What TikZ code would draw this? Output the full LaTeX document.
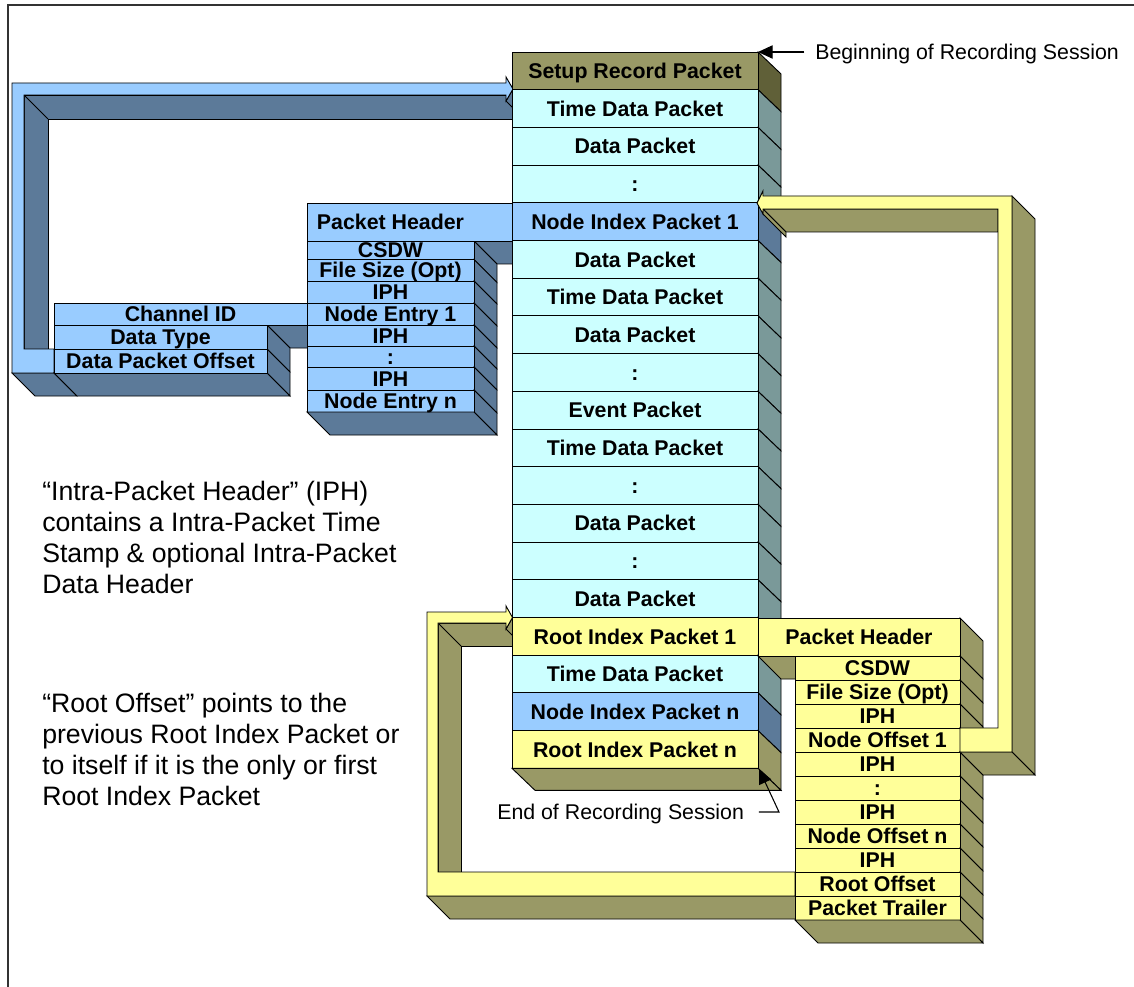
\documentclass[tikz,border=0pt]{standalone}
\usepackage{fontspec}
\setmainfont{Liberation Sans}
\usetikzlibrary{arrows.meta}
\definecolor{frontsetup}{HTML}{999966}
\definecolor{sidesetup}{HTML}{606038}
\definecolor{frontcyan}{HTML}{CCFFFF}
\definecolor{sidecyan}{HTML}{7A9999}
\definecolor{frontblue}{HTML}{99CCFF}
\definecolor{sideblue}{HTML}{5C7A99}
\definecolor{frontyel}{HTML}{FFFF99}
\definecolor{sideyel}{HTML}{999966}
\def\stacklist{Setup Record Packet/setup, Time Data Packet/cyan, Data Packet/cyan, :/cyan, Node Index Packet 1/blue, Data Packet/cyan, Time Data Packet/cyan, Data Packet/cyan, :/cyan, Event Packet/cyan, Time Data Packet/cyan, :/cyan, Data Packet/cyan, :/cyan, Data Packet/cyan, Root Index Packet 1/yel, Time Data Packet/cyan, Node Index Packet n/blue, Root Index Packet n/yel}
\def\bluelist{241/259.5/CSDW, 259.5/281/File Size (Opt), 281/303/IPH, 303/325/Node Entry 1, 325/346/IPH, 346/367/:, 367/390/IPH, 390/412/Node Entry n}
\def\yellist{CSDW, File Size (Opt), IPH, Node Offset 1, IPH, :, IPH, Node Offset n, IPH, Root Offset, Packet Trailer}
\begin{document}
\begin{tikzpicture}[x=0.75pt,y=-0.75pt,
  ln/.style={draw=black,line width=0.7pt,line join=miter},
  lbl/.style={font=\bfseries\fontsize{16}{18}\selectfont,inner sep=0pt,text height=11.5pt,text depth=0pt},
  anno/.style={font=\fontsize{16}{18}\selectfont,inner sep=0pt,text height=11.5pt,text depth=0pt},
  bignote/.style={font=\fontsize{20}{23.25}\selectfont,inner sep=0pt,align=left,anchor=north west},
  annot/.style={draw=black,line width=0.8pt,-{Triangle[length=11pt,width=10pt]}}]
\useasboundingbox (0,0) rectangle (1134,987);
% frame
\draw[line width=1.3pt,black!80] (8,987) -- (8,5) -- (1134,5);

% ---------- blue 3D arrow ----------
\filldraw[ln,fill=sideblue] (24,95) -- (512,95) -- (512,119) -- (48,119) -- (48,349) -- (24,349) -- cycle;
\draw[ln] (24,95) -- (48,119);
\filldraw[ln,fill=sideblue] (513,89) -- (506,101) -- (529,124) -- (536,112) -- cycle;
\filldraw[ln,fill=sideblue] (12,373) -- (54,373) -- (77,396) -- (35,396) -- cycle;
\filldraw[ln,fill=frontblue] (12,83) -- (506,83) -- (506,77) -- (513,89) -- (506,101) -- (506,95) -- (24,95) -- (24,349) -- (54,349) -- (54,373) -- (12,373) -- cycle;

% ---------- node entry table ----------
\filldraw[ln,fill=sideblue] (267,325) -- (307,325) -- (330,348) -- (290,348) -- cycle;
\foreach \t/\b in {325/349,349/373}
  \filldraw[ln,fill=sideblue] (267,\t) -- (290,{\t+23}) -- (290,{\b+23}) -- (267,\b) -- cycle;
\filldraw[ln,fill=sideblue] (54,373) -- (267,373) -- (290,396) -- (77,396) -- cycle;
\filldraw[ln,fill=frontblue] (54,303) rectangle (307,325);
\filldraw[ln,fill=frontblue] (54,325) rectangle (267,349);
\filldraw[ln,fill=frontblue] (54,349) rectangle (267,373);
\node[lbl] (chid) at (180.5,314) {Channel ID};
\node[lbl] (dtype) at (160.5,337) {Data Type};
\node[lbl] (dpo) at (160.5,361) {Data Packet Offset};

% ---------- node index packet ----------
\filldraw[ln,fill=sideblue] (474,241) -- (512,241) -- (535,264) -- (497,264) -- cycle;
\foreach \t/\b/\lab in \bluelist {
  \filldraw[ln,fill=sideblue] (474,\t) -- (497,{\t+23}) -- (497,{\b+23}) -- (474,\b) -- cycle;
  \filldraw[ln,fill=frontblue] (307,\t) rectangle (474,\b);
}
\filldraw[ln,fill=sideblue] (307,412) -- (474,412) -- (497,435) -- (330,435) -- cycle;
\filldraw[ln,fill=frontblue] (307,203) rectangle (512,241);
\node[lbl] (bph) at (390.5,222) {Packet Header};
\foreach \t/\b/\lab [count=\k] in \bluelist
  \node[lbl] (bp\k) at (390.5,{(\t+\b)/2}) {\lab};

% ---------- yellow left arrow ----------
\filldraw[ln,fill=sideyel] (438,623) -- (512,623) -- (512,646) -- (461,646) -- (461,872) -- (438,872) -- cycle;
\draw[ln] (438,623) -- (461,646);
\filldraw[ln,fill=sideyel] (512.5,617.5) -- (506,629) -- (529,652) -- (535.5,640.5) -- cycle;
\filldraw[ln,fill=sideyel] (427,896) -- (795,896) -- (818,919) -- (450,919) -- cycle;
\filldraw[ln,fill=frontyel] (427,612) -- (506,612) -- (506,606) -- (512.5,617.5) -- (506,629) -- (506,623) -- (438,623) -- (438,872) -- (795,872) -- (795,896) -- (427,896) -- cycle;

% ---------- main stack ----------
\foreach \lab/\typ [count=\i from 0] in \stacklist {
  \pgfmathsetmacro{\t}{52+37.7*\i}
  \pgfmathsetmacro{\b}{\t+37.7}
  \filldraw[ln,fill=side\typ] (758,\t) -- (781,{\t+22}) -- (781,{\b+22}) -- (758,\b) -- cycle;
  \filldraw[ln,fill=front\typ] (512,\t) rectangle (758,\b);
}
\filldraw[ln,fill=sideyel] (512,768.3) -- (758,768.3) -- (781,790.3) -- (535,790.3) -- cycle;
\foreach \lab/\typ [count=\i from 0] in \stacklist {
  \pgfmathsetmacro{\c}{52+37.7*\i+18.85}
  \node[lbl] (s\i) at (635,\c) {\lab};
}

% ---------- root index packet table ----------
\filldraw[ln,fill=sideyel] (758,656) -- (795,656) -- (818,679) -- (781,679) -- cycle;
\filldraw[ln,fill=sideyel] (960,618) -- (983,641) -- (983,679) -- (960,656) -- cycle;
\filldraw[ln,fill=frontyel] (758,618) rectangle (960,656);
\foreach \lab [count=\k from 0] in \yellist {
  \pgfmathsetmacro{\t}{656+24*\k}
  \pgfmathsetmacro{\b}{\t+24}
  \filldraw[ln,fill=sideyel] (960,\t) -- (983,{\t+23}) -- (983,{\b+23}) -- (960,\b) -- cycle;
  \filldraw[ln,fill=frontyel] (795,\t) rectangle (960,\b);
}
\filldraw[ln,fill=sideyel] (795,920) -- (960,920) -- (983,943) -- (818,943) -- cycle;
\node[lbl] (yph) at (859,637) {Packet Header};
\foreach \lab [count=\k from 0] in \yellist {
  \pgfmathsetmacro{\c}{668+24*\k}
  \node[lbl] (yp\k) at (877.5,\c) {\lab};
}

% ---------- yellow right arrow ----------
\filldraw[ln,fill=sideyel] (763,209) -- (998,209) -- (998,232) -- (786,232) -- cycle;
\filldraw[ln,fill=sideyel] (763,209) -- (763,214) -- (786,237) -- (786,232) -- cycle;
\filldraw[ln,fill=sideyel] (1012,196) -- (1035,219) -- (1035,775) -- (1012,752) -- cycle;
\filldraw[ln,fill=sideyel] (960,752) -- (1012,752) -- (1035,775) -- (983,775) -- cycle;
\filldraw[ln,fill=frontyel] (757,203) -- (763,191) -- (763,196) -- (1012,196) -- (1012,752) -- (960,752) -- (960,728) -- (998,728) -- (998,209) -- (763,209) -- (763,214) -- cycle;

% ---------- annotations ----------
\coordinate (begtip) at (758,52);
\node[anno,anchor=west] (begtext) at (815,52) {Beginning of Recording Session};
\draw[annot,shorten <=8pt] (begtext.west) -- (begtip);
\coordinate (endtip) at (759,769);
\coordinate (endbend) at (779,812);
\node[anno,anchor=west] (endtext) at (497,812) {End of Recording Session};
\draw[annot] ([xshift=11pt]endtext.east) -- (endbend) -- (endtip);

\node[bignote] (iphnote) at (42,481) {“Intra-Packet Header” (IPH)\\contains a Intra-Packet Time\\Stamp \& optional Intra-Packet\\Data Header};
\node[bignote] (rootnote) at (42,693) {“Root Offset” points to the\\previous Root Index Packet or\\to itself if it is the only or first\\Root Index Packet};
\end{tikzpicture}
\end{document}
